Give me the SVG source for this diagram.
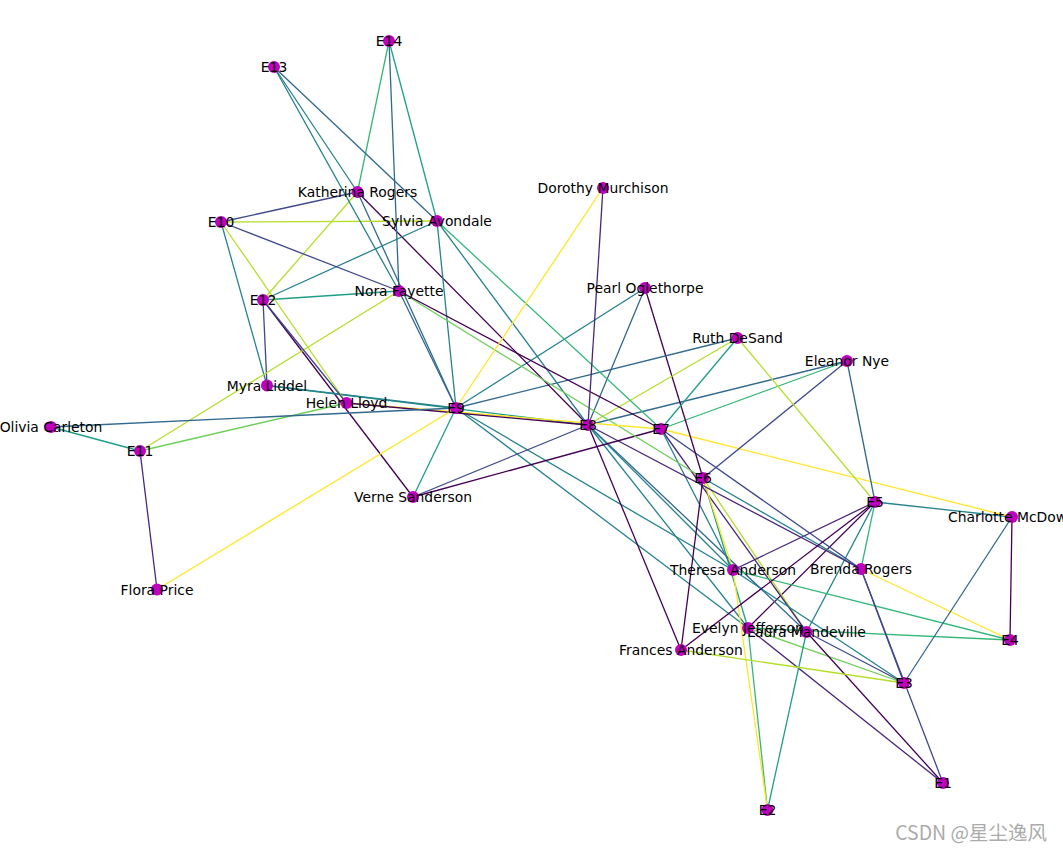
<svg xmlns="http://www.w3.org/2000/svg" width="1063" height="852" viewBox="0 0 1063 852">
<style>
line{stroke-width:1.3;fill:none}
.v0{stroke:#440154}.v1{stroke:#482878}.v2{stroke:#3e4989}.v3{stroke:#31688e}.v4{stroke:#26828e}
.v5{stroke:#1f9e89}.v6{stroke:#35b779}.v7{stroke:#6ece58}.v8{stroke:#b5de2b}.v9{stroke:#fde725}
circle{fill:#bf00bf}
text{font-family:"DejaVu Sans",sans-serif;font-size:13.9px;fill:#000;text-anchor:middle}
.wm{font-family:"Noto Sans CJK SC","DejaVu Sans",sans-serif;font-size:19.5px;fill:#ababab;text-anchor:end}
</style>
<rect width="1063" height="852" fill="#fff"/>
<g id="edges">
<line class="v1" x1="748" y1="628" x2="943" y2="783"/>
<line class="v6" x1="748" y1="628" x2="767.5" y2="810"/>
<line class="v7" x1="748" y1="628" x2="904" y2="683"/>
<line class="v6" x1="748" y1="628" x2="1010" y2="640"/>
<line class="v0" x1="748" y1="628" x2="875" y2="502"/>
<line class="v5" x1="748" y1="628" x2="703" y2="478"/>
<line class="v4" x1="748" y1="628" x2="588" y2="425"/>
<line class="v4" x1="748" y1="628" x2="456" y2="408"/>
<line class="v0" x1="806.5" y1="632" x2="943" y2="783"/>
<line class="v5" x1="806.5" y1="632" x2="767.5" y2="810"/>
<line class="v2" x1="806.5" y1="632" x2="904" y2="683"/>
<line class="v4" x1="806.5" y1="632" x2="875" y2="502"/>
<line class="v8" x1="806.5" y1="632" x2="703" y2="478"/>
<line class="v1" x1="806.5" y1="632" x2="661" y2="429"/>
<line class="v3" x1="806.5" y1="632" x2="588" y2="425"/>
<line class="v9" x1="733" y1="570" x2="767.5" y2="810"/>
<line class="v4" x1="733" y1="570" x2="904" y2="683"/>
<line class="v6" x1="733" y1="570" x2="1010" y2="640"/>
<line class="v1" x1="733" y1="570" x2="875" y2="502"/>
<line class="v9" x1="733" y1="570" x2="703" y2="478"/>
<line class="v4" x1="733" y1="570" x2="661" y2="429"/>
<line class="v4" x1="733" y1="570" x2="588" y2="425"/>
<line class="v4" x1="733" y1="570" x2="456" y2="408"/>
<line class="v2" x1="861" y1="569" x2="943" y2="783"/>
<line class="v2" x1="861" y1="569" x2="904" y2="683"/>
<line class="v9" x1="861" y1="569" x2="1010" y2="640"/>
<line class="v6" x1="861" y1="569" x2="875" y2="502"/>
<line class="v4" x1="861" y1="569" x2="703" y2="478"/>
<line class="v2" x1="861" y1="569" x2="661" y2="429"/>
<line class="v1" x1="861" y1="569" x2="588" y2="425"/>
<line class="v3" x1="1012" y1="517" x2="904" y2="683"/>
<line class="v0" x1="1012" y1="517" x2="1010" y2="640"/>
<line class="v4" x1="1012" y1="517" x2="875" y2="502"/>
<line class="v9" x1="1012" y1="517" x2="661" y2="429"/>
<line class="v8" x1="681" y1="650" x2="904" y2="683"/>
<line class="v0" x1="681" y1="650" x2="875" y2="502"/>
<line class="v0" x1="681" y1="650" x2="703" y2="478"/>
<line class="v0" x1="681" y1="650" x2="588" y2="425"/>
<line class="v3" x1="847" y1="361" x2="875" y2="502"/>
<line class="v2" x1="847" y1="361" x2="703" y2="478"/>
<line class="v6" x1="847" y1="361" x2="661" y2="429"/>
<line class="v3" x1="847" y1="361" x2="588" y2="425"/>
<line class="v0" x1="645" y1="288" x2="703" y2="478"/>
<line class="v3" x1="645" y1="288" x2="588" y2="425"/>
<line class="v4" x1="645" y1="288" x2="456" y2="408"/>
<line class="v8" x1="737.5" y1="338" x2="875" y2="502"/>
<line class="v5" x1="737.5" y1="338" x2="661" y2="429"/>
<line class="v8" x1="737.5" y1="338" x2="588" y2="425"/>
<line class="v3" x1="737.5" y1="338" x2="456" y2="408"/>
<line class="v0" x1="413" y1="497" x2="661" y2="429"/>
<line class="v2" x1="413" y1="497" x2="588" y2="425"/>
<line class="v5" x1="413" y1="497" x2="456" y2="408"/>
<line class="v0" x1="413" y1="497" x2="263" y2="300"/>
<line class="v5" x1="267" y1="385.5" x2="588" y2="425"/>
<line class="v4" x1="267" y1="385.5" x2="456" y2="408"/>
<line class="v4" x1="267" y1="385.5" x2="221" y2="222"/>
<line class="v2" x1="267" y1="385.5" x2="263" y2="300"/>
<line class="v0" x1="357.5" y1="192" x2="588" y2="425"/>
<line class="v3" x1="357.5" y1="192" x2="456" y2="408"/>
<line class="v2" x1="357.5" y1="192" x2="221" y2="222"/>
<line class="v8" x1="357.5" y1="192" x2="263" y2="300"/>
<line class="v4" x1="357.5" y1="192" x2="274" y2="67"/>
<line class="v6" x1="357.5" y1="192" x2="389" y2="41"/>
<line class="v6" x1="437" y1="221" x2="661" y2="429"/>
<line class="v4" x1="437" y1="221" x2="588" y2="425"/>
<line class="v4" x1="437" y1="221" x2="456" y2="408"/>
<line class="v8" x1="437" y1="221" x2="221" y2="222"/>
<line class="v4" x1="437" y1="221" x2="263" y2="300"/>
<line class="v3" x1="437" y1="221" x2="274" y2="67"/>
<line class="v5" x1="437" y1="221" x2="389" y2="41"/>
<line class="v7" x1="399" y1="291" x2="703" y2="478"/>
<line class="v0" x1="399" y1="291" x2="661" y2="429"/>
<line class="v3" x1="399" y1="291" x2="456" y2="408"/>
<line class="v2" x1="399" y1="291" x2="221" y2="222"/>
<line class="v8" x1="399" y1="291" x2="140" y2="451"/>
<line class="v5" x1="399" y1="291" x2="263" y2="300"/>
<line class="v4" x1="399" y1="291" x2="274" y2="67"/>
<line class="v3" x1="399" y1="291" x2="389" y2="41"/>
<line class="v9" x1="346.5" y1="403" x2="661" y2="429"/>
<line class="v0" x1="346.5" y1="403" x2="588" y2="425"/>
<line class="v8" x1="346.5" y1="403" x2="221" y2="222"/>
<line class="v7" x1="346.5" y1="403" x2="140" y2="451"/>
<line class="v2" x1="346.5" y1="403" x2="263" y2="300"/>
<line class="v1" x1="603" y1="188" x2="588" y2="425"/>
<line class="v9" x1="603" y1="188" x2="456" y2="408"/>
<line class="v3" x1="51" y1="427" x2="456" y2="408"/>
<line class="v5" x1="51" y1="427" x2="140" y2="451"/>
<line class="v9" x1="157" y1="589.5" x2="456" y2="408"/>
<line class="v1" x1="157" y1="589.5" x2="140" y2="451"/>
</g>
<g id="n-laura"><circle cx="806.5" cy="632" r="6"/><text x="806.5" y="637">Laura Mandeville</text></g>
<g id="n-evelyn"><circle cx="748" cy="628" r="6"/><text x="748" y="633">Evelyn Jefferson</text></g>
<g id="n-theresa"><circle cx="733" cy="570" r="6"/><text x="733" y="575">Theresa Anderson</text></g>
<g id="n-brenda"><circle cx="861" cy="569" r="6"/><text x="861" y="574">Brenda Rogers</text></g>
<g id="n-charlotte"><circle cx="1012" cy="517" r="6"/><text x="1012" y="522">Charlotte McDowd</text></g>
<g id="n-frances"><circle cx="681" cy="650" r="6"/><text x="681" y="655">Frances Anderson</text></g>
<g id="n-eleanor"><circle cx="847" cy="361" r="6"/><text x="847" y="366">Eleanor Nye</text></g>
<g id="n-pearl"><circle cx="645" cy="288" r="6"/><text x="645" y="293">Pearl Oglethorpe</text></g>
<g id="n-ruth"><circle cx="737.5" cy="338" r="6"/><text x="737.5" y="343">Ruth DeSand</text></g>
<g id="n-verne"><circle cx="413" cy="497" r="6"/><text x="413" y="502">Verne Sanderson</text></g>
<g id="n-myra"><circle cx="267" cy="385.5" r="6"/><text x="267" y="390.5">Myra Liddel</text></g>
<g id="n-katherina"><circle cx="357.5" cy="192" r="6"/><text x="357.5" y="197">Katherina Rogers</text></g>
<g id="n-sylvia"><circle cx="437" cy="221" r="6"/><text x="437" y="226">Sylvia Avondale</text></g>
<g id="n-nora"><circle cx="399" cy="291" r="6"/><text x="399" y="296">Nora Fayette</text></g>
<g id="n-helen"><circle cx="346.5" cy="403" r="6"/><text x="346.5" y="408">Helen Lloyd</text></g>
<g id="n-dorothy"><circle cx="603" cy="188" r="6"/><text x="603" y="193">Dorothy Murchison</text></g>
<g id="n-olivia"><circle cx="51" cy="427" r="6"/><text x="51" y="432">Olivia Carleton</text></g>
<g id="n-flora"><circle cx="157" cy="589.5" r="6"/><text x="157" y="594.5">Flora Price</text></g>
<g id="n-e1"><circle cx="943" cy="783" r="6"/><text x="943" y="788">E1</text></g>
<g id="n-e2"><circle cx="767.5" cy="810" r="6"/><text x="767.5" y="815">E2</text></g>
<g id="n-e3"><circle cx="904" cy="683" r="6"/><text x="904" y="688">E3</text></g>
<g id="n-e4"><circle cx="1010" cy="640" r="6"/><text x="1010" y="645">E4</text></g>
<g id="n-e5"><circle cx="875" cy="502" r="6"/><text x="875" y="507">E5</text></g>
<g id="n-e6"><circle cx="703" cy="478" r="6"/><text x="703" y="483">E6</text></g>
<g id="n-e7"><circle cx="661" cy="429" r="6"/><text x="661" y="434">E7</text></g>
<g id="n-e8"><circle cx="588" cy="425" r="6"/><text x="588" y="430">E8</text></g>
<g id="n-e9"><circle cx="456" cy="408" r="6"/><text x="456" y="413">E9</text></g>
<g id="n-e10"><circle cx="221" cy="222" r="6"/><text x="221" y="227">E10</text></g>
<g id="n-e11"><circle cx="140" cy="451" r="6"/><text x="140" y="456">E11</text></g>
<g id="n-e12"><circle cx="263" cy="300" r="6"/><text x="263" y="305">E12</text></g>
<g id="n-e13"><circle cx="274" cy="67" r="6"/><text x="274" y="72">E13</text></g>
<g id="n-e14"><circle cx="389" cy="41" r="6"/><text x="389" y="46">E14</text></g>
<text class="wm" x="1047" y="840">CSDN @星尘逸风</text>
</svg>
